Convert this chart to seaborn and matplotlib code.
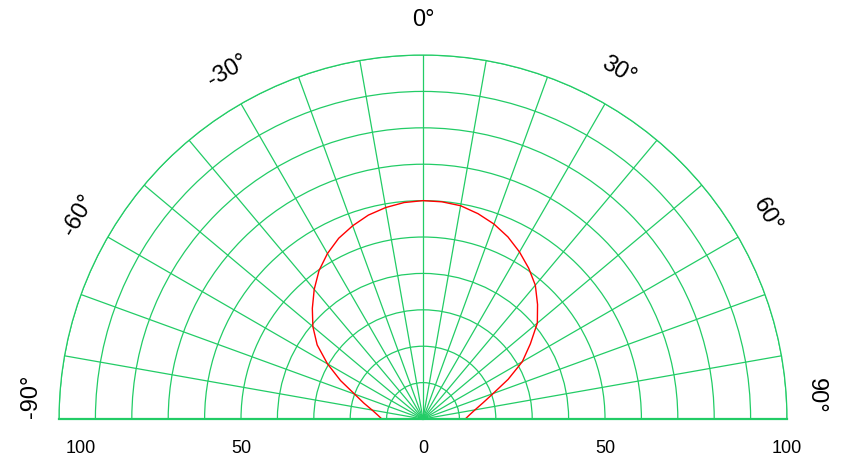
import numpy as np
import pandas as pd
import matplotlib
matplotlib.use("Agg")
import matplotlib.pyplot as plt
import matplotlib.transforms as mtransforms
import seaborn as sns

# pattern (angle in degrees, 0 = up, clockwise positive)
angles_deg = [-90, -85, -80, -75, -70, -65, -60, -55, -50, -45, -40, -35, -30,
              -25, -20, -15, -10, -5, 0, 5, 10, 15, 20, 25, 30, 35, 40, 45,
              50, 55, 60, 65, 70, 75, 80, 85, 90]
radius = [11.3, 12.5, 14.2, 16.8, 20.0, 25.0, 30.3, 35.5, 39.5, 43.0, 46.5, 49.8, 52.5,
          54.8, 56.5, 58.0, 59.0, 59.7, 60.0, 59.9, 59.5, 58.4, 57.0, 55.2, 53.0, 50.6, 48.0, 44.5,
          41.0, 36.0, 31.5, 25.8, 20.5, 17.0, 14.5, 12.8, 11.6]

angle_ticks = [-90, -60, -30, 0, 30, 60, 90]
radial_ticks = [100, 50, 0, 50, 100]
radial_pos = [-100, -50, 0, 50, 100]

GREEN = '#22cc66'

sns.set_style("white")
plt.rcParams['font.family'] = ['Liberation Sans', 'DejaVu Sans']

fig = plt.figure(figsize=(8.44, 4.77), dpi=100)
# square box; the half disc sits in its middle half, baseline at 1/4 height
ax = fig.add_axes([0.0699, -0.2621, 0.8626, 1.5262], projection='polar')
ax.set_theta_zero_location('N')
ax.set_theta_direction(-1)
ax.set_thetamin(-90)
ax.set_thetamax(90)
ax.set_rlim(0, 100)

ax.set_thetagrids(range(-90, 91, 10), labels=[''] * 19)
ax.set_rgrids(range(10, 101, 10), labels=[''] * 10)
ax.grid(True, color=GREEN, linewidth=0.9)
ax.tick_params(length=0)
for name, sp in ax.spines.items():
    sp.set_color(GREEN)
    sp.set_linewidth(0.9 if name in ('polar', 'inner') else 1.6)

df = pd.DataFrame({'theta': np.deg2rad(angles_deg), 'r': radius})
sns.lineplot(data=df, x='theta', y='r', sort=False, color='red',
             linewidth=1.0, ax=ax, legend=False)
ax.set_xlabel('')
ax.set_ylabel('')

# angular labels, tangential (the end ones are lifted above the baseline)
for a in angle_ticks:
    shift = 3.5 if abs(a) == 90 else 0.8
    pos = a - np.sign(a) * shift
    rr = 108 if abs(a) == 90 else 110
    ax.text(np.deg2rad(pos), rr, f'{a}°', rotation=-a, rotation_mode='anchor',
            ha='center', va='center', fontsize=17, color='black', clip_on=False)

# radial labels along the baseline
for p, lab in zip(radial_pos, radial_ticks):
    dx = 22 if p == -100 else 0
    tr = mtransforms.offset_copy(ax.transData, fig=fig, x=dx * 0.72, y=-28 * 0.72, units='points')
    th = np.deg2rad(-90 if p < 0 else 90)
    ax.text(th, abs(p), str(lab), transform=tr, ha='center', va='center',
            fontsize=13, color='black', clip_on=False)

fig.savefig('out.png', dpi=100)
